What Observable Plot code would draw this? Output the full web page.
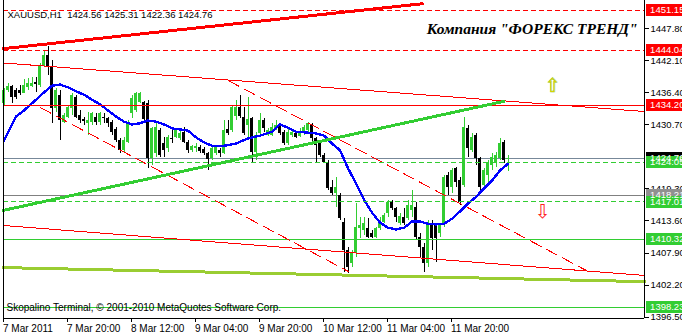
<!DOCTYPE html>
<html><head><meta charset="utf-8">
<script src="https://cdn.jsdelivr.net/npm/d3@7"></script>
<script src="https://cdn.jsdelivr.net/npm/@observablehq/plot@0.6"></script>
<style>
html,body{margin:0;padding:0;background:#fff;}
#chart svg line, #chart svg path, #chart svg rect{shape-rendering:crispEdges;}
</style></head><body><div id="chart"></div>
<script>
// ---- candles (H1 bars, index 0..126) ----
const openP = [
1434.5,1436.8,1437.6,1436.8,1436.8,1436.3,1437.4,1437.6,1438.3,1437.7,
1441.1,1443.1,1440.9,1433.6,1436.0,1431.2,1432.0,1433.6,1435.6,1432.4,
1431.7,1431.0,1431.2,1432.0,1431.2,1432.0,1431.9,1431.2,1429.9,1427.9,
1426.2,1427.6,1432.8,1433.3,1434.7,1434.7,1434.5,1424.7,1425.6,1429.7,
1427.4,1426.5,1428.3,1428.5,1428.3,1429.4,1427.6,1426.2,1426.5,1426.7,
1426.3,1425.6,1424.7,1425.6,1426.2,1425.6,1429.9,1429.7,1432.2,1433.8,
1432.0,1430.6,1431.9,1425.8,1429.2,1431.5,1428.8,1428.8,1430.1,1430.6,
1429.4,1427.4,1428.8,1429.2,1428.7,1429.2,1429.7,1430.6,1428.3,1427.4,
1425.3,1424.0,1419.6,1418.5,1418.2,1413.3,1408.3,1406.0,1407.8,1412.3,
1411.9,1412.3,1411.4,1410.7,1412.3,1413.3,1414.9,1416.9,1415.8,1413.2,
1414.2,1414.1,1415.5,1416.0,1410.7,1408.9,1406.0,1413.2,1412.8,1411.4,
1412.8,1421.7,1419.6,1423.0,1420.8,1419.9,1430.1,1426.2,1428.8,1424.7,
1419.9,1421.7,1423.5,1423.8,1424.7,1427.6,1424.56];
const highP = [
1437.2,1438.1,1437.7,1437.2,1437.7,1438.8,1439.0,1439.2,1439.2,1441.7,
1444.0,1444.7,1442.2,1437.2,1436.9,1432.8,1434.2,1436.3,1436.0,1433.3,
1432.0,1432.9,1432.9,1432.8,1432.9,1432.8,1432.0,1431.5,1430.3,1428.3,
1428.5,1431.5,1436.0,1436.5,1436.5,1434.9,1435.1,1430.3,1431.0,1430.1,
1428.5,1428.8,1429.7,1430.1,1429.7,1430.3,1427.9,1427.1,1427.4,1427.1,
1426.7,1425.8,1426.7,1427.1,1426.5,1431.5,1431.5,1434.2,1435.1,1436.0,
1433.8,1435.6,1432.0,1429.4,1432.8,1431.9,1430.1,1431.0,1431.5,1431.0,
1429.7,1430.1,1429.7,1429.5,1430.1,1430.6,1431.2,1431.0,1428.5,1427.6,
1425.6,1424.4,1420.8,1421.4,1418.5,1414.1,1408.9,1408.3,1416.7,1414.2,
1414.2,1414.1,1411.9,1412.4,1414.2,1414.9,1417.3,1417.3,1416.0,1414.9,
1415.8,1417.3,1419.0,1416.9,1411.4,1409.6,1413.7,1413.7,1413.2,1413.2,
1421.7,1422.2,1423.0,1423.1,1421.4,1432.0,1430.6,1429.2,1429.2,1424.9,
1423.0,1424.4,1425.6,1425.8,1428.3,1427.9,1425.31];
const lowP = [
1434.2,1436.5,1434.5,1435.2,1436.0,1436.3,1436.8,1437.4,1436.5,1437.4,
1440.9,1439.5,1431.0,1432.9,1427.9,1431.0,1431.9,1432.4,1431.9,1431.0,
1430.6,1428.8,1430.6,1430.6,1430.6,1431.0,1430.3,1428.8,1427.6,1425.6,
1425.8,1427.4,1431.9,1432.9,1434.5,1431.2,1423.0,1423.5,1424.9,1424.9,
1424.9,1425.8,1427.4,1428.3,1427.9,1427.4,1425.6,1425.8,1425.8,1425.6,
1425.3,1422.6,1424.4,1425.3,1424.9,1425.4,1428.8,1429.4,1431.5,1431.9,
1428.8,1428.5,1424.0,1424.4,1428.5,1429.4,1428.7,1428.7,1429.7,1428.8,
1427.1,1427.1,1428.5,1428.3,1428.5,1428.8,1429.4,1427.4,1424.0,1424.9,
1423.8,1419.0,1418.2,1416.0,1413.7,1404.4,1404.3,1405.3,1407.1,1410.5,
1411.0,1410.5,1410.5,1410.5,1411.9,1413.2,1414.2,1415.5,1413.3,1412.8,
1412.8,1413.7,1414.2,1410.1,1407.1,1404.4,1405.3,1408.3,1406.2,1410.7,
1412.4,1418.2,1418.5,1419.6,1416.4,1419.6,1424.9,1425.8,1423.5,1418.7,
1419.4,1420.5,1422.6,1423.1,1424.4,1423.8,1422.36];
const closeP = [
1436.9,1437.6,1435.6,1435.6,1436.3,1437.7,1438.1,1438.1,1437.9,1441.3,
1443.1,1440.9,1433.6,1436.9,1431.5,1432.4,1433.8,1436.0,1432.0,1431.5,
1431.3,1431.5,1432.8,1431.2,1432.8,1431.9,1431.0,1429.4,1427.9,1426.2,
1427.9,1431.0,1435.4,1436.3,1436.3,1431.7,1424.7,1430.1,1430.3,1425.3,
1426.2,1428.5,1428.1,1429.9,1429.2,1427.6,1426.2,1426.9,1426.9,1426.0,
1425.6,1424.6,1426.5,1426.7,1425.6,1429.7,1429.2,1433.8,1433.8,1432.2,
1429.2,1431.7,1425.8,1428.8,1431.5,1430.1,1429.7,1430.3,1430.6,1429.2,
1427.4,1429.4,1429.4,1428.5,1429.4,1430.3,1431.0,1428.3,1427.1,1425.3,
1424.0,1419.4,1418.5,1419.6,1414.1,1408.3,1405.3,1407.8,1412.4,1412.8,
1413.2,1410.7,1410.7,1412.3,1413.3,1414.6,1416.9,1415.8,1414.2,1414.4,
1413.2,1416.4,1416.4,1410.7,1408.9,1406.0,1413.2,1410.5,1410.5,1412.8,
1421.4,1419.6,1422.6,1420.5,1416.9,1430.3,1426.5,1428.5,1424.7,1419.6,
1422.6,1423.8,1424.9,1425.3,1427.4,1424.4,1424.76];

// ---- moving average (blue), read at selected bars ----
const maIndex = [0,3,5,8,10,12,14,16,18,20,22,24,26,28,30,32,34,36,38,40,42,44,46,48,50,52,55,58,61,64,67,69,71,73,75,78,80,82,84,86,88,90,92,94,96,98,100,102,104,106,108,110,112,114,116,118,120,122,124,126];
const maValue = [1427.9,1432.2,1433.3,1435.2,1436.5,1437.7,1437.9,1437.4,1436.7,1436.1,1435.2,1434.4,1433.3,1432.2,1431.3,1430.8,1431.0,1431.5,1431.3,1430.8,1430.1,1429.9,1429.7,1428.5,1427.6,1427.0,1427.0,1427.4,1428.3,1428.8,1429.5,1430.8,1430.2,1429.5,1429.4,1429.2,1428.8,1427.4,1426.2,1423.0,1420.3,1417.4,1415.1,1413.3,1412.4,1412.1,1412.4,1413.5,1413.5,1413.1,1413.0,1413.1,1414.0,1415.3,1416.7,1417.9,1419.4,1420.8,1422.6,1423.8];

// ---- axes ----
const xTickIndex = [0,16,32,48,64,80,96,112];
const xTickLabels = ["7 Mar 2011","7 Mar 20:00","8 Mar 12:00","9 Mar 04:00","9 Mar 20:00","10 Mar 12:00","11 Mar 04:00","11 Mar 20:00"];
const yTicks = [1447.80,1442.10,1436.40,1430.70,1419.30,1413.60,1407.90,1402.20,1396.50];

// ---- horizontal levels ----
const levelPrices = [1451.15,1444.04,1434.20,1424.76,1424.05,1418.21,1417.01,1410.32,1398.23];
const levelKinds  = ["redDash","redDash","red","bid","greenDash","gray","greenDash","green","green"];

// ---- trend lines (bar index, price) ----
const trendNames = ["redTop","redUpper","redLower","greenTrend","olive","dashA","dashB"];
const trendI1 = [-0.125,-0.125,-0.125,-0.125,-0.125,9.1,56.1];
const trendP1 = [1444.3,1441.75,1412.8,1415.5,1405.3,1433.8,1438.6];
const trendI2 = [104.6,160.1,160.1,124.9,160.1,86.1,146.6];
const trendP2 = [1452.3,1433.1,1403.9,1434.9,1402.8,1404.6,1404.4];

// ---- arrows ----
const arrowIndex = [137.1,134.6];
const arrowPrice = [1437.7,1415.2];
const arrowGlyph = ["\u21E7","\u21E9"];

const headerText = "XAUUSD,H1  1424.56 1425.31 1422.36 1424.76";
const titleText = "Компания \"ФОРЕКС ТРЕНД\"";
const footerText = "Skopalino Terminal, © 2001-2010 MetaQuotes Software Corp.";

// ---- build ----
const GREEN = "#32cd32";
const candles = openP.map((o,i)=>({i, open:o, high:highP[i], low:lowP[i], close:closeP[i]}));
const ma = maIndex.map((i,k)=>({i, v:maValue[k]}));
const levels = levelPrices.map((p,k)=>({p, kind:levelKinds[k]}));
const trends = trendNames.flatMap((n,k)=>[{n,i:trendI1[k],p:trendP1[k]},{n,i:trendI2[k],p:trendP2[k]}]);
const arrows = arrowIndex.map((i,k)=>({i,p:arrowPrice[k],g:arrowGlyph[k]}));
const xDom = [-0.125, 160.125];
const yDom = [1396.233, 1452.876];
const lvl = k => levels.filter(d=>d.kind===k);
const tr = n => trends.filter(d=>d.n===n);
const candleColor = d => d.close >= d.open ? GREEN : "#000";
const boxColor = {redDash:"#ff0000", red:"#ff0000", bid:"#000000", greenDash:GREEN, gray:"#909090", green:GREEN};
const boxOrder = ["redDash","red","bid","gray","greenDash","green"];
const boxes = levels.slice().sort((a,b)=>boxOrder.indexOf(a.kind)-boxOrder.indexOf(b.kind));
const boxX1 = xDom[1] + 0.375, boxX2 = xDom[1] + 12, boxTextX = xDom[1] + 1.4;

const chart = Plot.plot({
  width: 682, height: 336,
  marginLeft: 3, marginRight: 38, marginTop: 0, marginBottom: 18,
  x: {domain: xDom, axis: null},
  y: {domain: yDom, axis: null},
  style: {background:"#fff", fontFamily:"Liberation Sans, Arial, sans-serif", fontSize:"10px", color:"#000"},
  marks: [
    Plot.ruleY(lvl("bid"), {y:"p", stroke:"#778899", strokeWidth:1}),
    Plot.ruleY(lvl("gray"), {y:"p", stroke:"#808080", strokeWidth:1}),
    Plot.ruleX(candles, {x:"i", y1:"low", y2:"high", stroke:candleColor, strokeWidth:1}),
    Plot.rect(candles, {x1:d=>d.i-0.375, x2:d=>d.i+0.375, y1:"open", y2:"close", fill:candleColor}),
    Plot.line(ma, {x:"i", y:"v", stroke:"#0000ff", strokeWidth:2.4}),
    Plot.ruleY(lvl("redDash"), {y:"p", stroke:"#ff0000", strokeWidth:1, strokeDasharray:"5,3"}),
    Plot.ruleY(lvl("red"), {y:"p", stroke:"#ff0000", strokeWidth:1}),
    Plot.ruleY(lvl("greenDash"), {y:"p", stroke:GREEN, strokeWidth:1, strokeDasharray:"5,3"}),
    Plot.ruleY(lvl("green"), {y:"p", stroke:GREEN, strokeWidth:1}),
    Plot.line(tr("redTop"), {x:"i", y:"p", stroke:"#ff0000", strokeWidth:3}),
    Plot.line(tr("redUpper"), {x:"i", y:"p", stroke:"#ff0000", strokeWidth:1}),
    Plot.line(tr("redLower"), {x:"i", y:"p", stroke:"#ff0000", strokeWidth:1}),
    Plot.line(tr("dashA"), {x:"i", y:"p", stroke:"#ff0000", strokeWidth:1, strokeDasharray:"12,6"}),
    Plot.line(tr("dashB"), {x:"i", y:"p", stroke:"#ff0000", strokeWidth:1, strokeDasharray:"12,6"}),
    Plot.line(tr("greenTrend"), {x:"i", y:"p", stroke:GREEN, strokeWidth:3}),
    Plot.line(tr("olive"), {x:"i", y:"p", stroke:"#9acd32", strokeWidth:3}),
    Plot.text(arrows.slice(0,1), {x:"i", y:"p", text:"g", fill:"#d4d400", stroke:"#7cc030", strokeWidth:0.5, fontSize:19, fontFamily:"DejaVu Sans"}),
    Plot.text(arrows.slice(1), {x:"i", y:"p", text:"g", fill:"#ff2020", fontSize:19, fontFamily:"DejaVu Sans"}),
    // frame lines
    Plot.ruleX([xDom[0]], {stroke:"#000"}),
    Plot.ruleX([xDom[1]], {stroke:"#000"}),
    Plot.ruleY([yDom[0]], {stroke:"#000"}),
    // axes
    Plot.axisY(yTicks, {anchor:"right", tickSize:4, tickPadding:2, tickFormat:d=>d.toFixed(2), fontSize:9.5, label:null}),
    Plot.axisX(xTickIndex, {anchor:"bottom", tickSize:4, tickPadding:2, tickFormat:d=>xTickLabels[xTickIndex.indexOf(d)], textAnchor:"start", dx:-1, fontSize:10, label:null}),
    // price boxes
    Plot.ruleY(boxes, {y:"p", x1:()=>boxX1, x2:()=>boxX2, stroke:d=>boxColor[d.kind], strokeWidth:12}),
    Plot.text(boxes, {y:"p", x:()=>boxTextX, text:d=>d.p.toFixed(2), fill:"#fff", textAnchor:"start", fontSize:9.5}),
    // texts
    Plot.text([headerText], {frameAnchor:"top-left", dx:4, dy:11, textAnchor:"start", fontSize:9.5, fill:"#000"}),
    Plot.text([titleText], {frameAnchor:"top-right", dx:-7, dy:22, textAnchor:"end", fontSize:15.5, fontWeight:"bold", fontStyle:"italic", fontFamily:"Liberation Serif", fill:"#000"}),
    Plot.text([footerText], {frameAnchor:"bottom-left", dx:3, dy:-8, textAnchor:"start", fontSize:10, fill:"#000"})
  ]
});
document.getElementById("chart").appendChild(chart);
</script></body></html>
